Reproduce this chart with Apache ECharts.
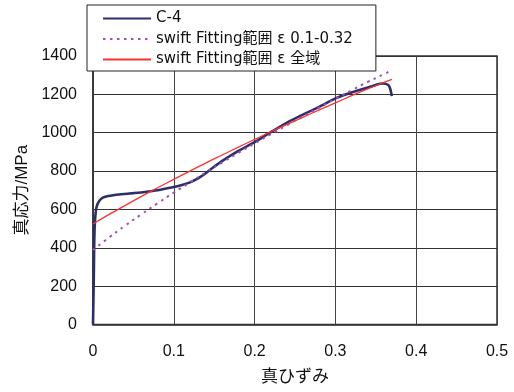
<!DOCTYPE html>
<html>
<head>
<meta charset="utf-8">
<script src="https://cdn.jsdelivr.net/npm/echarts@6/dist/echarts.min.js"></script>
<style>
html,body{margin:0;padding:0;background:#fff;}
#chart{width:514px;height:392px;}
</style>
</head>
<body>
<div id="chart"></div>
<script>
// Measured true stress–strain curve of specimen C-4
const c4Strain = [0, 0.001, 0.0015, 0.002, 0.003, 0.004, 0.006, 0.01, 0.015, 0.025, 0.035, 0.05, 0.064, 0.08, 0.097, 0.11, 0.12, 0.13, 0.14, 0.149, 0.161, 0.18, 0.201, 0.219, 0.244, 0.256, 0.28, 0.3, 0.32, 0.347, 0.355, 0.359, 0.3655, 0.3676, 0.369, 0.3697];
const c4Stress = [0, 250, 420, 500, 570, 605, 632, 655, 666, 674, 679, 685, 691, 700, 714, 727, 741, 762, 790, 820, 856, 905, 953, 1000, 1062, 1087, 1135, 1179, 1210, 1245, 1255, 1257, 1249, 1232, 1210, 1191];

// Swift fit over strain range 0.1–0.32
const fitAStrain = [0, 0.02, 0.04, 0.06, 0.08, 0.10, 0.12, 0.14, 0.16, 0.18, 0.20, 0.22, 0.24, 0.26, 0.28, 0.30, 0.32, 0.34, 0.36, 0.368];
const fitAStress = [388, 454, 516, 575, 632, 688, 741, 794, 845, 895, 944, 992, 1039, 1086, 1131, 1177, 1221, 1265, 1305, 1322];

// Swift fit over the whole strain range
const fitBStrain = [0, 0.02, 0.04, 0.06, 0.08, 0.10, 0.12, 0.14, 0.16, 0.18, 0.20, 0.22, 0.24, 0.26, 0.28, 0.30, 0.32, 0.34, 0.36, 0.37];
const fitBStress = [524, 574, 621, 668, 713, 757, 800, 843, 884, 925, 965, 1005, 1043, 1081, 1119, 1156, 1193, 1229, 1262, 1278];

const seriesNames = ['C-4', 'swift Fitting範囲 ε 0.1-0.32', 'swift Fitting範囲 ε 全域'];
const xTicks = [0, 0.1, 0.2, 0.3, 0.4, 0.5];
const yTicks = [0, 200, 400, 600, 800, 1000, 1200, 1400];

const pairs = (xs, ys) => xs.map((x, i) => [x, ys[i]]);
const FONT = '"Liberation Sans", "Noto Sans CJK JP", sans-serif';
const LEGEND_FONT = '"DejaVu Sans", "Noto Sans CJK JP", sans-serif';

const chart = echarts.init(document.getElementById('chart'), null, {renderer: 'canvas'});
chart.setOption({
  animation: false,
  backgroundColor: '#ffffff',
  textStyle: {fontFamily: FONT},
  grid: {left: 93, right: 17, top: 56, bottom: 67.5, show: true, borderColor: '#333', borderWidth: 1.5},
  legend: {
    orient: 'vertical',
    left: 87, top: 5,
    backgroundColor: '#ffffff',
    borderColor: '#222', borderWidth: 1,
    padding: [6, 23, 4, 15],
    itemWidth: 48, itemHeight: 14, itemGap: 5.5,
    // legend keys show the line only (marker hidden)
    itemStyle: {opacity: 0},
    textStyle: {fontSize: 15, color: '#111', fontFamily: LEGEND_FONT},
    data: seriesNames
  },
  xAxis: {
    type: 'value', min: 0, max: 0.5, interval: 0.1,
    name: '真ひずみ', nameLocation: 'middle', nameGap: 44,
    nameTextStyle: {fontSize: 17, color: '#111', fontFamily: FONT},
    axisLine: {show: true, onZero: false, lineStyle: {color: '#333', width: 1.5}},
    axisTick: {show: false},
    axisLabel: {fontSize: 16, color: '#111', margin: 19,
      formatter: v => { const t = xTicks.find(k => Math.abs(k - v) < 1e-9); return t === undefined ? '' : String(t); }},
    splitLine: {show: true, lineStyle: {color: '#444', width: 1}}
  },
  yAxis: {
    type: 'value', min: 0, max: 1400, interval: 200,
    name: '真応力/MPa', nameLocation: 'middle', nameGap: 60, nameRotate: 90,
    nameTextStyle: {fontSize: 17, color: '#111', fontFamily: FONT},
    axisLine: {show: true, lineStyle: {color: '#333', width: 1.5}},
    axisTick: {show: false},
    axisLabel: {fontSize: 16, color: '#111', margin: 16,
      formatter: v => { const t = yTicks.find(k => k === v); return t === undefined ? '' : String(t); }},
    splitLine: {show: true, lineStyle: {color: '#333', width: 1}}
  },
  series: [
    {
      name: seriesNames[0], type: 'line', data: pairs(c4Strain, c4Stress),
      showSymbol: false, symbol: 'none', smooth: 0.2, z: 3,
      lineStyle: {color: '#2d2f6b', width: 2.6}, itemStyle: {color: '#2d2f6b'}
    },
    {
      name: seriesNames[1], type: 'line', data: pairs(fitAStrain, fitAStress),
      showSymbol: false, symbol: 'none', smooth: true, z: 4,
      lineStyle: {color: '#a050b4', width: 2, type: [2.5, 4.5]}, itemStyle: {color: '#a050b4'}
    },
    {
      name: seriesNames[2], type: 'line', data: pairs(fitBStrain, fitBStress),
      showSymbol: false, symbol: 'none', smooth: true, z: 5,
      lineStyle: {color: '#ff3030', width: 1.3}, itemStyle: {color: '#ff3030'}
    }
  ]
});
</script>
</body>
</html>
